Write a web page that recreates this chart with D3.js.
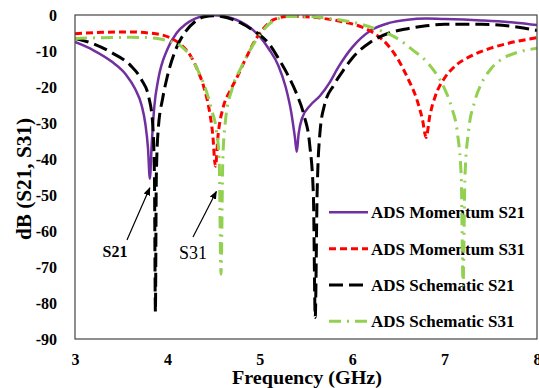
<!DOCTYPE html>
<html>
<head>
  <meta charset="utf-8">
  <title>S21 / S31</title>
  <script src="https://cdn.jsdelivr.net/npm/d3@7"></script>
  <style>
    body { margin: 0; background: #fff; }
    svg text { font-family: "Liberation Serif", "Times New Roman", Times, serif !important; }
  </style>
</head>
<body>
<script>
// frequency (GHz) and dB values
var momS21F = [3.0, 3.2, 3.4, 3.55, 3.65, 3.72, 3.76, 3.79, 3.81, 3.83, 3.86, 3.9, 4.0, 4.1, 4.2, 4.3, 4.4, 4.5, 4.6, 4.7, 4.8, 4.9, 5.0, 5.1, 5.2, 5.28, 5.34, 5.38, 5.40, 5.42, 5.46, 5.55, 5.65, 5.75, 5.85, 6.0, 6.2, 6.4, 6.6, 6.8, 7.0, 7.4, 7.8, 8.0];
var momS21  = [-7.5, -9.8, -13, -16.5, -20.5, -25, -30, -37, -45.5, -36, -25, -18, -9.5, -5, -2.5, -1, -0.3, -0.1, -0.3, -0.9, -2, -3.6, -6, -9.5, -14, -20, -27, -34, -38, -33, -28.5, -25, -22.5, -19, -14.5, -9, -4.3, -2.2, -1.3, -1, -1.1, -1.5, -2.2, -2.8];

var momS31F = [3.0, 3.3, 3.6, 3.8, 3.95, 4.05, 4.15, 4.25, 4.33, 4.4, 4.45, 4.49, 4.52, 4.55, 4.6, 4.68, 4.75, 4.85, 4.95, 5.05, 5.15, 5.3, 5.5, 5.7, 5.9, 6.1, 6.25, 6.4, 6.5, 6.6, 6.7, 6.76, 6.8, 6.84, 6.9, 7.0, 7.1, 7.3, 7.5, 7.7, 8.0];
var momS31  = [-5.2, -4.8, -4.7, -5, -5.6, -6.6, -8.3, -11.3, -15.5, -20.5, -26, -33, -42, -33, -26, -21, -17.5, -12, -7, -3.5, -1.3, -0.4, -0.5, -1, -1.9, -3.3, -5.3, -8.8, -12.5, -17.5, -23.5, -29, -34, -28, -22.5, -17.5, -14.5, -11.2, -9.2, -7.8, -6.3];

var schS21F = [3.0, 3.2, 3.4, 3.6, 3.72, 3.8, 3.84, 3.86, 3.87, 3.88, 3.9, 3.95, 4.0, 4.1, 4.2, 4.3, 4.4, 4.5, 4.6, 4.7, 4.8, 4.9, 5.0, 5.1, 5.2, 5.3, 5.4, 5.48, 5.54, 5.58, 5.6, 5.62, 5.65, 5.7, 5.8, 5.9, 6.0, 6.2, 6.4, 6.6, 6.8, 7.0, 7.4, 7.8, 8.0];
var schS21  = [-6.5, -8, -10.5, -14, -18, -23, -30, -45, -82.5, -45, -32, -23, -17, -9, -4.5, -1.8, -0.5, -0.2, -0.5, -1.2, -2.3, -3.8, -5.5, -8, -12, -16.5, -22, -28, -36, -50, -84, -50, -33, -25, -19.5, -15.5, -12, -7.5, -5, -3.8, -3, -2.6, -2.6, -3.4, -4.3];

var schS31F = [3.0, 3.3, 3.6, 3.8, 3.95, 4.05, 4.15, 4.25, 4.35, 4.42, 4.48, 4.53, 4.56, 4.58, 4.6, 4.63, 4.7, 4.8, 4.9, 5.0, 5.1, 5.2, 5.3, 5.5, 5.7, 5.9, 6.1, 6.3, 6.5, 6.65, 6.8, 6.9, 7.0, 7.08, 7.14, 7.18, 7.2, 7.22, 7.26, 7.32, 7.4, 7.5, 7.65, 7.8, 8.0];
var schS31  = [-6.5, -6.3, -6.2, -6.3, -6.8, -7.5, -8.7, -11.5, -16.5, -21, -26.5, -32, -40, -72, -40, -29, -20.5, -14.5, -9.5, -5.5, -2.5, -1, -0.4, -0.4, -0.8, -1.5, -2.6, -4.3, -6.7, -9.6, -12.8, -16, -20.5, -26, -33, -45, -75, -45, -32, -24.5, -19, -15, -11.8, -10.3, -9.2];

var seriesNames = ["ADS Momentum S21", "ADS Momentum S31", "ADS Schematic S21", "ADS Schematic S31"];
var xTicks = [3, 4, 5, 6, 7, 8];
var yTicks = [0, -10, -20, -30, -40, -50, -60, -70, -80, -90];

var width = 539, height = 388;
var margin = { left: 75, right: 2, top: 15, bottom: 49 };
var serif = "Liberation Serif, Times New Roman, serif";

var svg = d3.select("body").append("svg")
  .attr("width", width)
  .attr("height", height)
  .style("font-family", serif);

var x = d3.scaleLinear().domain([3, 8]).range([margin.left, width - margin.right]);
var y = d3.scaleLinear().domain([-90, 0]).range([height - margin.bottom, margin.top]);

svg.append("defs").append("clipPath").attr("id", "plot")
  .append("rect")
  .attr("x", x(3)).attr("y", y(0))
  .attr("width", x(8) - x(3)).attr("height", y(-90) - y(0));

svg.append("defs").append("marker")
  .attr("id", "arrow")
  .attr("viewBox", "0 0 10 10")
  .attr("refX", 9).attr("refY", 5)
  .attr("markerWidth", 7).attr("markerHeight", 7)
  .attr("orient", "auto")
  .append("path")
  .attr("d", "M0,1 L10,5 L0,9 Z")
  .attr("fill", "#000");

// plain hyphen for negatives, like the original
var fmt = function(d) { return String(d); };

// axes: labels only, the frame is drawn separately
svg.append("g")
  .attr("transform", "translate(0," + (y(-90) + 12) + ")")
  .call(d3.axisBottom(x).tickValues(xTicks).tickSize(0).tickFormat(fmt))
  .call(function(g) { g.select(".domain").remove(); g.attr("font-family", null); })
  .selectAll("text")
  .attr("font-size", 16).attr("font-weight", "bold");

svg.append("g")
  .attr("transform", "translate(" + (x(3) - 15) + ",0)")
  .call(d3.axisLeft(y).tickValues(yTicks).tickSize(0).tickFormat(fmt))
  .call(function(g) { g.select(".domain").remove(); g.attr("font-family", null); })
  .selectAll("text")
  .attr("font-size", 16).attr("font-weight", "bold");

svg.append("text")
  .attr("transform", "translate(31,179) rotate(-90)")
  .attr("text-anchor", "middle")
  .attr("font-size", 20).attr("font-weight", "bold")
  .attr("textLength", 122).attr("lengthAdjust", "spacingAndGlyphs")
  .text("dB (S21, S31)");

svg.append("text")
  .attr("x", 307).attr("y", 384)
  .attr("text-anchor", "middle")
  .attr("font-size", 19).attr("font-weight", "bold")
  .attr("textLength", 150).attr("lengthAdjust", "spacingAndGlyphs")
  .text("Frequency (GHz)");

// series
var styles = [
  { color: "#7030a0", dash: null, w: 2.5 },
  { color: "#ff0000", dash: "7,4", w: 3 },
  { color: "#000000", dash: "14,6", w: 3 },
  { color: "#92d050", dash: "12,6,2,6", w: 3 }
];
var series = [
  d3.zip(momS21F, momS21),
  d3.zip(momS31F, momS31),
  d3.zip(schS21F, schS21),
  d3.zip(schS31F, schS31)
];

var line = d3.line()
  .x(function(d) { return x(d[0]); })
  .y(function(d) { return y(d[1]); })
  .curve(d3.curveMonotoneX);

// legend (drawn under the curves, no background)
var legend = svg.append("g");
seriesNames.forEach(function(name, i) {
  var ly = y(-54.8 - i * 10.1);
  legend.append("line")
    .attr("x1", 329).attr("x2", 368)
    .attr("y1", ly).attr("y2", ly)
    .attr("stroke", styles[i].color)
    .attr("stroke-width", styles[i].w)
    .attr("stroke-dasharray", styles[i].dash);
  legend.append("text")
    .attr("x", 371).attr("y", ly + 6)
    .attr("font-size", 17).attr("font-weight", "bold")
    .text(name);
});

svg.append("g").attr("clip-path", "url(#plot)")
  .selectAll("path")
  .data(series)
  .enter().append("path")
  .attr("d", line)
  .attr("fill", "none")
  .attr("stroke", function(d, i) { return styles[i].color; })
  .attr("stroke-width", function(d, i) { return styles[i].w; })
  .attr("stroke-dasharray", function(d, i) { return styles[i].dash; });

// frame
svg.append("rect")
  .attr("x", x(3)).attr("y", y(0))
  .attr("width", x(8) - x(3)).attr("height", y(-90) - y(0))
  .attr("fill", "none")
  .attr("stroke", "#444")
  .attr("stroke-width", 1.2);

// annotations
svg.append("text")
  .attr("x", 115).attr("y", 257)
  .attr("text-anchor", "middle")
  .attr("font-size", 16).attr("font-weight", "bold")
  .text("S21");
svg.append("line")
  .attr("x1", 127).attr("y1", 240)
  .attr("x2", x(3.81)).attr("y2", y(-48))
  .attr("stroke", "#000").attr("stroke-width", 1.2)
  .attr("marker-end", "url(#arrow)");

svg.append("text")
  .attr("x", 193).attr("y", 259)
  .attr("text-anchor", "middle")
  .attr("font-size", 18)
  .text("S31");
svg.append("line")
  .attr("x1", 193).attr("y1", 237)
  .attr("x2", x(4.53)).attr("y2", y(-49))
  .attr("stroke", "#000").attr("stroke-width", 1.2)
  .attr("marker-end", "url(#arrow)");
</script>
</body>
</html>
